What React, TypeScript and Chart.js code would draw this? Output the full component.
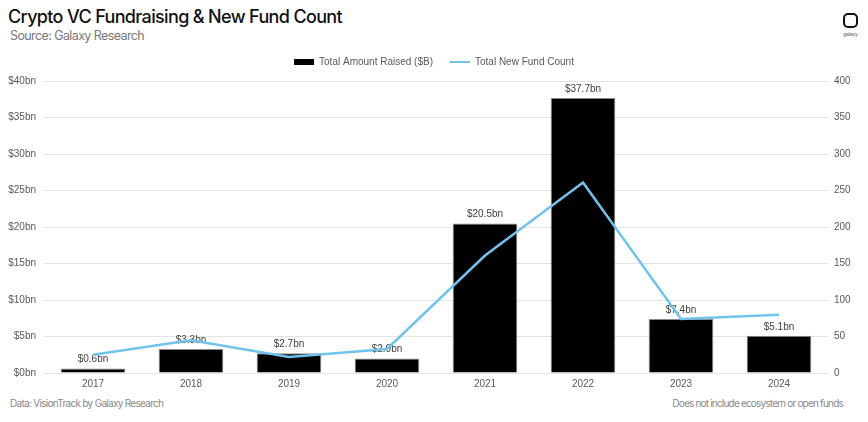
import React, { useEffect, useRef } from "react";
import { Chart, registerables } from "chart.js";

Chart.register(...registerables);

const years = ["2017", "2018", "2019", "2020", "2021", "2022", "2023", "2024"];
const amountRaised = [0.6, 3.3, 2.7, 2.0, 20.5, 37.7, 7.4, 5.1];
const newFundCount = [25, 45, 22, 33, 161, 261, 74, 80];
const leftTicks = [0, 5, 10, 15, 20, 25, 30, 35, 40];
const rightTicks = [0, 50, 100, 150, 200, 250, 300, 350, 400];

const barLabel = "Total Amount Raised ($B)";
const lineLabel = "Total New Fund Count";
const titleText = "Crypto VC Fundraising & New Fund Count";
const subtitleText = "Source: Galaxy Research";
const footLeft = "Data: VisionTrack by Galaxy Research";
const footRight = "Does not include ecosystem or open funds";

const LINE_COLOR = "#70c3ee";
const TEXT_COLOR = "#595959";
const FONT = "'Liberation Sans', Arial, sans-serif";
const FS = 10;

const barLabelsPlugin = {
  id: "barLabels",
  afterDatasetDraw(chart: any, args: any) {
    if (args.index !== 0) return;
    const ctx = chart.ctx;
    const meta = chart.getDatasetMeta(0);
    ctx.save();
    ctx.font = `${FS}px ${FONT}`;
    ctx.fillStyle = "#404040";
    ctx.textAlign = "center";
    ctx.textBaseline = "bottom";
    meta.data.forEach((el: any, i: number) => {
      const v = chart.data.datasets[0].data[i];
      ctx.fillText(`$${v.toFixed(1)}bn`, el.x, el.y - 4);
    });
    ctx.restore();
  },
};

function ChartBox() {
  const ref = useRef<HTMLCanvasElement | null>(null);
  useEffect(() => {
    if (!ref.current) return;
    Chart.defaults.font.family = FONT;
    Chart.defaults.font.size = FS;
    Chart.defaults.color = TEXT_COLOR;
    const chart = new Chart(ref.current, {
      type: "bar",
      data: {
        labels: years,
        datasets: [
          {
            type: "bar",
            label: barLabel,
            data: amountRaised,
            backgroundColor: "#000000",
            borderColor: "#8a8a8a",
            borderWidth: 1,
            barPercentage: 0.66,
            categoryPercentage: 1,
            yAxisID: "y",
            order: 1,
          },
          {
            type: "line",
            label: lineLabel,
            data: newFundCount,
            borderColor: LINE_COLOR,
            backgroundColor: LINE_COLOR,
            borderWidth: 2.5,
            pointRadius: 0,
            tension: 0,
            yAxisID: "y1",
            order: 0,
          },
        ],
      },
      options: {
        animation: false,
        responsive: false,
        maintainAspectRatio: false,
        layout: { padding: 0 },
        plugins: {
          tooltip: { enabled: false },
          // empty spacer box placed between the legend and the plot area
          title: {
            display: true,
            text: "",
            weight: 0,
            position: "top",
            font: { size: 1 },
            padding: { top: 0, bottom: 3 },
          },
          legend: {
            position: "top",
            labels: {
              usePointStyle: true,
              pointStyleWidth: 20,
              boxHeight: 6,
              padding: 17,
              color: TEXT_COLOR,
              font: { size: FS, family: FONT },
              generateLabels: (c: any) => [
                {
                  text: c.data.datasets[0].label,
                  fillStyle: "#000000",
                  strokeStyle: "#000000",
                  lineWidth: 0,
                  pointStyle: "rect",
                  datasetIndex: 0,
                  hidden: false,
                  fontColor: TEXT_COLOR,
                },
                {
                  text: c.data.datasets[1].label,
                  fillStyle: LINE_COLOR,
                  strokeStyle: LINE_COLOR,
                  lineWidth: 2,
                  pointStyle: "line",
                  datasetIndex: 1,
                  hidden: false,
                  fontColor: TEXT_COLOR,
                },
              ],
            },
          },
        },
        scales: {
          x: {
            grid: { display: false, drawTicks: false },
            border: { display: false },
            ticks: { padding: 5, color: TEXT_COLOR, font: { size: FS } },
            afterFit: (s: any) => {
              s.height = 18;
            },
          },
          y: {
            position: "left",
            min: 0,
            max: 40,
            afterBuildTicks: (s: any) => {
              s.ticks = leftTicks.map((v) => ({ value: v }));
            },
            ticks: {
              padding: 8,
              color: TEXT_COLOR,
              font: { size: FS },
              callback: (v: any) => `$${v}bn`,
            },
            grid: { color: "#e3e3e3", drawTicks: false, lineWidth: 1 },
            border: { display: false },
            afterFit: (s: any) => {
              s.width = 44;
            },
          },
          y1: {
            position: "right",
            min: 0,
            max: 400,
            afterBuildTicks: (s: any) => {
              s.ticks = rightTicks.map((v) => ({ value: v }));
            },
            ticks: { padding: 6, color: TEXT_COLOR, font: { size: FS } },
            grid: { display: false, drawTicks: false },
            border: { display: false },
            afterFit: (s: any) => {
              s.width = 40;
            },
          },
        },
      },
      plugins: [barLabelsPlugin],
    } as any);
    return () => chart.destroy();
  }, []);
  return (
    <canvas
      ref={ref}
      width={868}
      height={351}
      style={{ position: "absolute", left: 0, top: 40, width: 868, height: 351 }}
    />
  );
}

export default function App() {
  return (
    <div
      style={{
        position: "fixed",
        left: 0,
        top: 0,
        width: 868,
        height: 422,
        background: "#ffffff",
        overflow: "hidden",
      }}
    >
      <div
        style={{
          position: "absolute",
          left: 8,
          top: 6,
          fontFamily: "Inter, 'Noto Sans', sans-serif",
          fontWeight: 500,
          fontSize: 18,
          letterSpacing: "-0.65px",
          color: "#111111",
          whiteSpace: "nowrap",
        }}
      >
        {titleText}
      </div>
      <div
        style={{
          position: "absolute",
          left: 10,
          top: 28,
          fontFamily: "Inter, 'Noto Sans', sans-serif",
          fontSize: 12.5,
          letterSpacing: "-0.6px",
          color: "#777777",
          whiteSpace: "nowrap",
        }}
      >
        {subtitleText}
      </div>
      <div
        style={{
          position: "absolute",
          left: 843,
          top: 13,
          width: 15,
          height: 15,
          border: "2.5px solid #111",
          borderRadius: 5,
          boxSizing: "border-box",
        }}
      />
      <div
        style={{
          position: "absolute",
          left: 838,
          top: 31,
          width: 25,
          textAlign: "center",
          fontFamily: FONT,
          fontSize: 5,
          color: "#555",
        }}
      >
        galaxy
      </div>
      <ChartBox />
      <div
        style={{
          position: "absolute",
          left: 10,
          top: 397,
          fontFamily: "Inter, 'Noto Sans', sans-serif",
          fontSize: 10,
          letterSpacing: "-0.7px",
          color: "#8a8a8a",
          whiteSpace: "nowrap",
        }}
      >
        {footLeft}
      </div>
      <div
        style={{
          position: "absolute",
          right: 25,
          top: 397,
          fontFamily: "Inter, 'Noto Sans', sans-serif",
          fontSize: 10,
          letterSpacing: "-0.8px",
          color: "#8a8a8a",
          whiteSpace: "nowrap",
        }}
      >
        {footRight}
      </div>
    </div>
  );
}
